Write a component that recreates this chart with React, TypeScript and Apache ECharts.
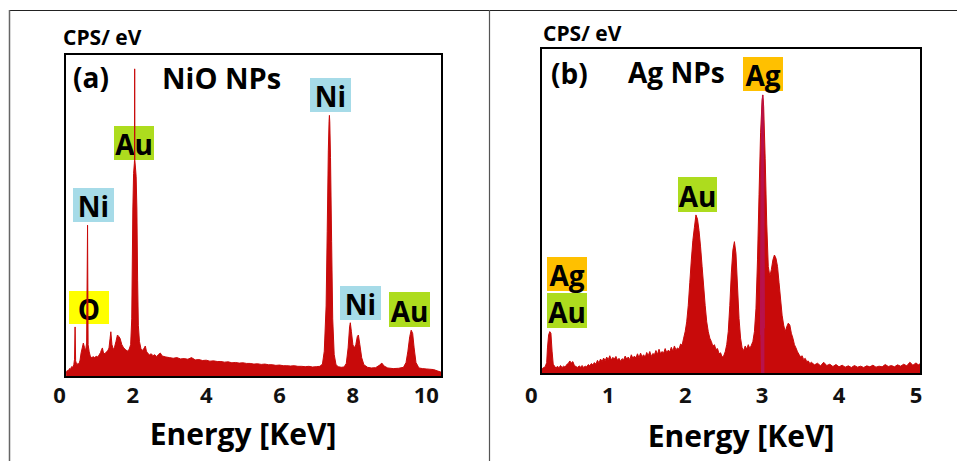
import React, { useEffect, useRef } from "react";
import * as echarts from "echarts";

// Panel (a): NiO NPs spectrum — [energy (keV), counts (relative, frame top = 100)]
const spectrumA: [number, number][] = [
  [0.18, 1.2], [0.21, 2.0], [0.24, 1.8], [0.27, 2.6], [0.3, 2.4], [0.33, 3.2], [0.36, 3.0], [0.39, 3.8],
  [0.41, 5.5], [0.425, 15.5], [0.44, 5.0], [0.47, 3.8], [0.5, 4.2], [0.53, 4.0], [0.56, 5.2], [0.59, 7.5],
  [0.62, 9.0], [0.65, 10.5], [0.68, 9.2], [0.71, 8.0], [0.74, 10.5], [0.765, 47], [0.78, 10.0], [0.81, 7.8],
  [0.84, 6.4], [0.88, 6.0], [0.92, 6.3], [0.96, 6.0], [1.0, 6.4], [1.04, 6.2], [1.08, 6.8], [1.12, 7.6],
  [1.15, 8.6], [1.17, 9.0], [1.2, 7.4], [1.24, 7.2], [1.28, 7.8], [1.32, 8.2], [1.35, 9.0], [1.38, 12],
  [1.4, 14], [1.43, 10], [1.47, 8.5], [1.5, 9.2], [1.54, 11], [1.58, 13], [1.62, 12.5], [1.65, 12],
  [1.7, 10], [1.75, 9.0], [1.8, 8.5], [1.85, 8.0], [1.9, 8.6], [1.94, 10], [1.97, 18], [2.0, 52],
  [2.02, 63], [2.04, 66], [2.045, 67], [2.05, 95.4], [2.055, 67], [2.07, 65], [2.09, 62], [2.11, 52],
  [2.13, 30], [2.15, 16], [2.18, 11], [2.22, 8.8], [2.27, 8.2], [2.31, 9.0], [2.34, 9.6], [2.37, 8.0],
  [2.4, 7.5], [2.45, 6.8], [2.5, 7.2], [2.55, 6.6], [2.6, 6.9], [2.65, 6.3], [2.7, 7.0], [2.75, 7.4],
  [2.8, 6.5], [2.9, 6.2], [3.0, 6.0], [3.1, 5.8], [3.2, 6.0], [3.3, 5.6], [3.4, 5.7], [3.5, 5.5],
  [3.6, 6.0], [3.7, 5.3], [3.8, 5.4], [3.9, 5.1], [4.0, 5.2], [4.1, 4.9], [4.2, 5.0], [4.3, 4.8],
  [4.4, 4.8], [4.5, 4.6], [4.6, 4.7], [4.7, 4.4], [4.8, 4.5], [4.9, 4.3], [5.0, 4.4], [5.1, 4.2],
  [5.2, 4.2], [5.3, 4.0], [5.4, 4.1], [5.5, 3.9], [5.6, 4.0], [5.7, 3.8], [5.8, 3.8], [5.9, 3.6],
  [6.0, 3.7], [6.1, 3.5], [6.2, 3.5], [6.3, 3.4], [6.4, 3.5], [6.5, 3.3], [6.6, 3.3], [6.7, 3.2],
  [6.8, 3.3], [6.9, 3.1], [7.0, 3.2], [7.1, 3.3], [7.17, 4.0], [7.22, 8], [7.27, 22], [7.3, 45],
  [7.33, 70], [7.35, 79], [7.36, 81], [7.37, 79], [7.39, 68], [7.42, 42], [7.45, 18], [7.49, 7],
  [7.54, 3.8], [7.6, 3.2], [7.68, 3.0], [7.76, 3.1], [7.82, 4.2], [7.87, 9], [7.91, 15.5], [7.93, 16.8],
  [7.96, 14], [8.0, 10], [8.04, 9.0], [8.08, 10], [8.12, 12.5], [8.15, 13], [8.19, 10], [8.24, 6],
  [8.3, 3.8], [8.4, 3.0], [8.5, 2.8], [8.62, 2.9], [8.72, 3.6], [8.79, 4.3], [8.85, 3.4], [8.95, 2.8],
  [9.1, 2.6], [9.25, 2.7], [9.38, 3.0], [9.45, 4.5], [9.5, 8], [9.55, 12.5], [9.59, 14.5], [9.63, 13.5],
  [9.67, 9], [9.72, 4.5], [9.8, 2.8], [9.9, 2.6], [10.0, 2.5], [10.1, 2.4], [10.2, 2.3], [10.3, 1.9],
  [10.43, 1.4],
];

// Panel (b): Ag NPs spectrum
const spectrumB: [number, number][] = [
  [0.124, 1.2], [0.15, 1.8], [0.18, 2.2], [0.2, 3.5], [0.21, 8], [0.225, 12], [0.24, 13], [0.255, 12.5],
  [0.27, 7], [0.285, 3], [0.3, 2.5], [0.32, 1.8], [0.34, 2.4], [0.36, 1.9], [0.38, 2.6], [0.4, 2.0],
  [0.42, 2.4], [0.44, 2.1], [0.46, 2.9], [0.48, 3.2], [0.5, 4.0], [0.52, 3.4], [0.54, 3.8], [0.56, 2.6],
  [0.58, 2.3], [0.6, 2.0], [0.62, 2.5], [0.64, 2.1], [0.66, 2.6], [0.68, 2.0], [0.7, 2.4], [0.72, 2.2],
  [0.74, 2.9], [0.76, 2.5], [0.78, 3.2], [0.8, 2.8], [0.82, 3.5], [0.84, 3.0], [0.86, 4.2], [0.88, 3.4],
  [0.9, 4.6], [0.92, 3.8], [0.94, 4.9], [0.96, 4.1], [0.98, 5.2], [1.0, 4.4], [1.02, 5.6], [1.04, 4.3],
  [1.06, 5.1], [1.08, 4.6], [1.1, 5.4], [1.12, 4.2], [1.14, 4.8], [1.16, 3.9], [1.18, 4.7], [1.2, 4.3],
  [1.22, 5.5], [1.24, 4.6], [1.26, 5.2], [1.28, 4.4], [1.3, 5.9], [1.32, 4.8], [1.34, 5.5], [1.36, 4.9],
  [1.38, 6.2], [1.4, 5.0], [1.42, 6.4], [1.44, 5.3], [1.46, 5.9], [1.48, 5.1], [1.5, 6.6], [1.52, 5.6],
  [1.54, 6.9], [1.56, 5.4], [1.58, 6.3], [1.6, 5.9], [1.62, 7.2], [1.64, 6.0], [1.66, 7.6], [1.68, 6.2],
  [1.7, 6.9], [1.72, 6.4], [1.74, 7.8], [1.76, 6.6], [1.78, 7.3], [1.8, 6.8], [1.82, 8.2], [1.84, 7.0],
  [1.86, 8.6], [1.88, 7.4], [1.9, 8.0], [1.92, 7.6], [1.94, 9.2], [1.96, 8.8], [1.98, 11], [2.0, 13],
  [2.02, 16], [2.04, 21], [2.06, 28], [2.08, 35], [2.1, 41], [2.12, 45], [2.14, 48.8], [2.16, 47.5],
  [2.18, 44], [2.2, 39], [2.22, 33], [2.24, 27], [2.26, 21], [2.28, 16], [2.3, 13], [2.32, 11],
  [2.34, 10], [2.36, 8.5], [2.38, 9.0], [2.4, 7.5], [2.42, 7.8], [2.44, 6.2], [2.46, 6.5], [2.48, 5.2],
  [2.5, 5.5], [2.52, 6.8], [2.54, 9], [2.56, 13], [2.58, 21], [2.6, 31], [2.62, 38], [2.64, 40.6],
  [2.66, 37], [2.68, 27], [2.7, 17], [2.72, 11], [2.74, 8], [2.76, 7.2], [2.78, 8.6], [2.8, 7.6],
  [2.82, 9.0], [2.84, 7.8], [2.86, 8.8], [2.88, 10], [2.9, 13], [2.92, 20], [2.94, 35], [2.96, 55],
  [2.98, 74], [3.0, 84], [3.01, 85.6], [3.02, 82], [3.04, 66], [3.06, 46], [3.08, 33], [3.1, 30],
  [3.12, 32], [3.14, 35], [3.16, 36.5], [3.18, 35.5], [3.2, 33], [3.22, 28], [3.24, 23], [3.26, 18],
  [3.28, 15], [3.3, 13], [3.32, 14.5], [3.34, 15.6], [3.36, 15], [3.38, 12.5], [3.4, 11], [3.42, 9],
  [3.44, 8], [3.46, 6.8], [3.48, 6.0], [3.5, 5.2], [3.52, 5.6], [3.54, 4.4], [3.56, 4.8], [3.58, 3.8],
  [3.6, 4.0], [3.62, 3.2], [3.64, 3.6], [3.68, 2.8], [3.72, 3.3], [3.76, 2.5], [3.8, 3.6], [3.84, 2.6],
  [3.88, 3.0], [3.92, 2.3], [3.96, 2.9], [4.0, 2.2], [4.04, 2.7], [4.08, 2.1], [4.12, 2.5], [4.16, 2.0],
  [4.2, 2.6], [4.24, 2.1], [4.28, 2.4], [4.32, 2.0], [4.36, 2.5], [4.4, 2.2], [4.44, 2.7], [4.48, 2.1],
  [4.52, 2.4], [4.56, 2.2], [4.6, 2.9], [4.64, 2.3], [4.68, 2.6], [4.72, 2.2], [4.76, 2.8], [4.8, 2.4],
  [4.84, 3.0], [4.88, 2.5], [4.92, 3.6], [4.96, 2.7], [5.0, 3.4], [5.03, 2.8], [5.065, 3.3],
];

// The narrow Ag Lα line core, drawn in crimson on top of panel (b)
const agLineB: [number, number][] = [
  [2.978, 12], [2.986, 62], [2.996, 80], [3.005, 85.6], [3.013, 83], [3.022, 62], [3.03, 14],
];

const ticksA: number[] = [0, 2, 4, 6, 8, 10];
const ticksB: number[] = [0, 1, 2, 3, 4, 5];

const FONT = '"Open Sans", "DejaVu Sans", sans-serif';
const RED = "#c80a0a";
const CRIMSON = "#b8124c";

function boxLabel(text: string, x: number, y: number, w: number, h: number, fill: string) {
  return {
    type: "group",
    z: 120,
    children: [
      { type: "rect", shape: { x, y, width: w, height: h }, style: { fill } },
      {
        type: "text",
        x: x + w / 2,
        y: y + h / 2 + 1,
        style: {
          text,
          fill: "#000",
          font: `bold 28px ${FONT}`,
          align: "center",
          verticalAlign: "middle",
        },
      },
    ],
  };
}

function txt(text: string, x: number, y: number, size: number, align = "left") {
  return {
    type: "text",
    z: 120,
    x,
    y,
    style: {
      text,
      fill: "#000",
      font: `bold ${size}px ${FONT}`,
      align,
      verticalAlign: "middle",
    },
  };
}

export default function App() {
  const ref = useRef<HTMLDivElement>(null);
  useEffect(() => {
    document.body.style.margin = "0";
    if (!ref.current) return;
    const chart = echarts.init(ref.current, null, { renderer: "svg" });
    const fmt = (v: number) => (Math.abs(v - Math.round(v)) < 1e-6 ? String(Math.round(v)) : "");
    const axisLabel = (margin: number) => ({
      margin,
      fontSize: 22,
      fontWeight: "bold",
      fontFamily: FONT,
      color: "#111",
      formatter: fmt,
    });
    chart.setOption({
      animation: false,
      backgroundColor: "#fff",
      grid: [
        { left: 59.5, top: 54, width: 382.5, height: 323 },
        { left: 531.3, top: 48, width: 389.7, height: 326 },
      ],
      xAxis: [
        {
          type: "value", gridIndex: 0, min: ticksA[0], max: 10.43, interval: ticksA[1] - ticksA[0],
          axisLine: { show: false }, axisTick: { show: false }, splitLine: { show: false },
          axisLabel: axisLabel(6),
        },
        {
          type: "value", gridIndex: 1, min: ticksB[0], max: 5.065, interval: ticksB[1] - ticksB[0],
          axisLine: { show: false }, axisTick: { show: false }, splitLine: { show: false },
          axisLabel: axisLabel(9),
        },
      ],
      yAxis: [
        { type: "value", gridIndex: 0, min: 0, max: 100, show: false },
        { type: "value", gridIndex: 1, min: 0, max: 100, show: false },
      ],
      series: [
        {
          type: "line", xAxisIndex: 0, yAxisIndex: 0, data: spectrumA, showSymbol: false,
          lineStyle: { color: RED, width: 1 }, areaStyle: { color: RED, opacity: 1 },
        },
        {
          type: "line", xAxisIndex: 1, yAxisIndex: 1, data: spectrumB, showSymbol: false,
          lineStyle: { color: RED, width: 1 }, areaStyle: { color: RED, opacity: 1 },
        },
        {
          type: "line", xAxisIndex: 1, yAxisIndex: 1, data: agLineB, showSymbol: false,
          lineStyle: { color: CRIMSON, width: 1 }, areaStyle: { color: CRIMSON, opacity: 1 },
        },
      ],
      graphic: [
        // outer borders
        { type: "line", z: 110, shape: { x1: 9, y1: 10.5, x2: 957, y2: 10.5 }, style: { stroke: "#222", lineWidth: 1.2 } },
        { type: "line", z: 110, shape: { x1: 9.5, y1: 10, x2: 9.5, y2: 461 }, style: { stroke: "#666", lineWidth: 1.5 } },
        { type: "line", z: 110, shape: { x1: 489.5, y1: 10, x2: 489.5, y2: 461 }, style: { stroke: "#555", lineWidth: 1.2 } },
        // plot frames
        { type: "rect", z: 110, shape: { x: 65, y: 54, width: 377, height: 323 }, style: { fill: "none", stroke: "#000", lineWidth: 2 } },
        { type: "rect", z: 110, shape: { x: 541, y: 48, width: 380, height: 326 }, style: { fill: "none", stroke: "#000", lineWidth: 2 } },
        // axis titles
        txt("CPS/ eV", 63, 37, 21),
        txt("CPS/ eV", 543, 33, 21),
        txt("Energy [KeV]", 243, 433, 30, "center"),
        txt("Energy [KeV]", 741, 435, 30, "center"),
        // panel titles
        txt("(a)", 73, 77, 28),
        txt("NiO NPs", 162, 77, 29),
        txt("(b)", 551, 73, 28),
        txt("Ag NPs", 628, 72, 28),
        // element labels, panel a
        boxLabel("O", 69, 291, 40, 33, "#ffff00"),
        boxLabel("Ni", 73, 188, 41, 34, "#a6dbe8"),
        boxLabel("Au", 114, 126, 40, 34, "#addc1e"),
        boxLabel("Ni", 310, 78, 41, 34, "#a6dbe8"),
        boxLabel("Ni", 340, 286, 41, 34, "#a6dbe8"),
        boxLabel("Au", 389, 292, 41, 35, "#addc1e"),
        // element labels, panel b
        boxLabel("Ag", 743, 57, 40, 34, "#ffc000"),
        boxLabel("Au", 678, 177, 39, 35, "#addc1e"),
        boxLabel("Ag", 547, 257, 40, 34, "#ffc000"),
        boxLabel("Au", 547, 293, 40, 35, "#addc1e"),
      ],
    });
    return () => chart.dispose();
  }, []);
  return <div ref={ref} style={{ width: 957, height: 461 }} />;
}
